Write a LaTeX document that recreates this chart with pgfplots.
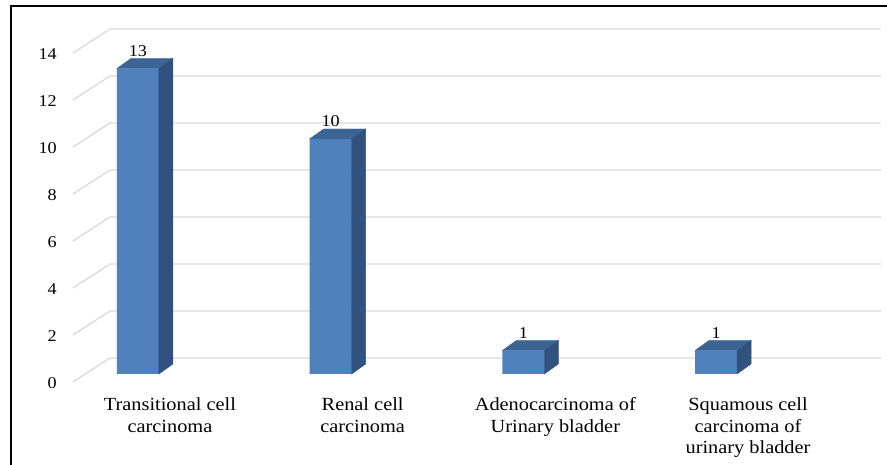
\documentclass[border=0pt]{standalone}
\usepackage{pgfplots}
\pgfplotsset{compat=1.18}
\usepackage{pgfplotstable}
\usepackage{fontspec}
\setmainfont{Liberation Serif}[FakeStretch=1.1]
\definecolor{barfront}{HTML}{4F81BD}
\definecolor{bartop}{HTML}{3C6494}
\definecolor{barside}{HTML}{31527F}
\definecolor{gridc}{HTML}{D9D9D9}
\pgfdeclareplotmark{emptymark}{}

\pgfplotstableread{
x v
0 13
1 10
2 1
3 1
}\datatable

\begin{document}
\begin{tikzpicture}[x=1pt,y=1pt]
\begin{axis}[
  at={(73pt,67.5pt)}, anchor=south west,
  scale only axis, width=808pt, height=376pt,
  xmin=-0.337, xmax=3.856, ymin=-1, ymax=15,
  axis line style={draw=none},
  major tick length=0pt,
  /pgf/number format/assume math mode=true,
  xtick={0,1,2,3},
  xticklabels={{Transitional cell\\carcinoma},{Renal cell\\carcinoma},{Adenocarcinoma of\\Urinary bladder},{Squamous cell\\carcinoma of\\urinary bladder}},
  xticklabel style={align=center, font=\fontsize{18.5}{21.7}\selectfont, xshift=32pt, anchor=north, inner sep=0pt},
  ytick={0,2,...,14},
  yticklabels={0,2,4,6,8,10,12,14},
  yticklabel style={font=\fontsize{16.5}{19}\selectfont, anchor=east, inner sep=0pt, xshift=-16pt, yshift=-9pt},
  clip=false,
]
\pgfplotsinvokeforeach{0,2,...,14}{
  \draw[gridc, line width=1.3pt] ([yshift=-8pt]axis cs:-0.337,#1) -- ([yshift=16pt]axis cs:-0.145,#1) -- ([yshift=16pt]axis cs:3.856,#1);
}
\addplot[ybar, bar width=42pt, bar shift=0pt, fill=barfront, draw=none,
  nodes near coords,
  nodes near coords style={font=\fontsize{16.5}{19}\selectfont, anchor=center, yshift=17.5pt, text=black}]
  table[x=x,y=v]{\datatable};
\addplot[scatter, only marks, mark=emptymark,
  visualization depends on={\thisrow{v}\as\val},
  scatter/@pre marker code/.code={
    \fill[bartop] (-21pt,0pt) -- (21pt,0pt) -- (35pt,10pt) -- (-7pt,10pt) -- cycle;
    \fill[barside] (21pt,0pt) -- (35pt,10pt) -- ++(axis direction cs:0,-\val) -- ++(-14pt,-10pt) -- cycle;
  },
  scatter/@post marker code/.code={},
] table[x=x,y=v]{\datatable};
\end{axis}
\draw[line width=2.2pt] (11pt,-20pt) -- (11pt,459pt) -- (900pt,459pt);
\pgfresetboundingbox
\useasboundingbox (0pt,0pt) rectangle (887pt,465pt);
\end{tikzpicture}
\end{document}
